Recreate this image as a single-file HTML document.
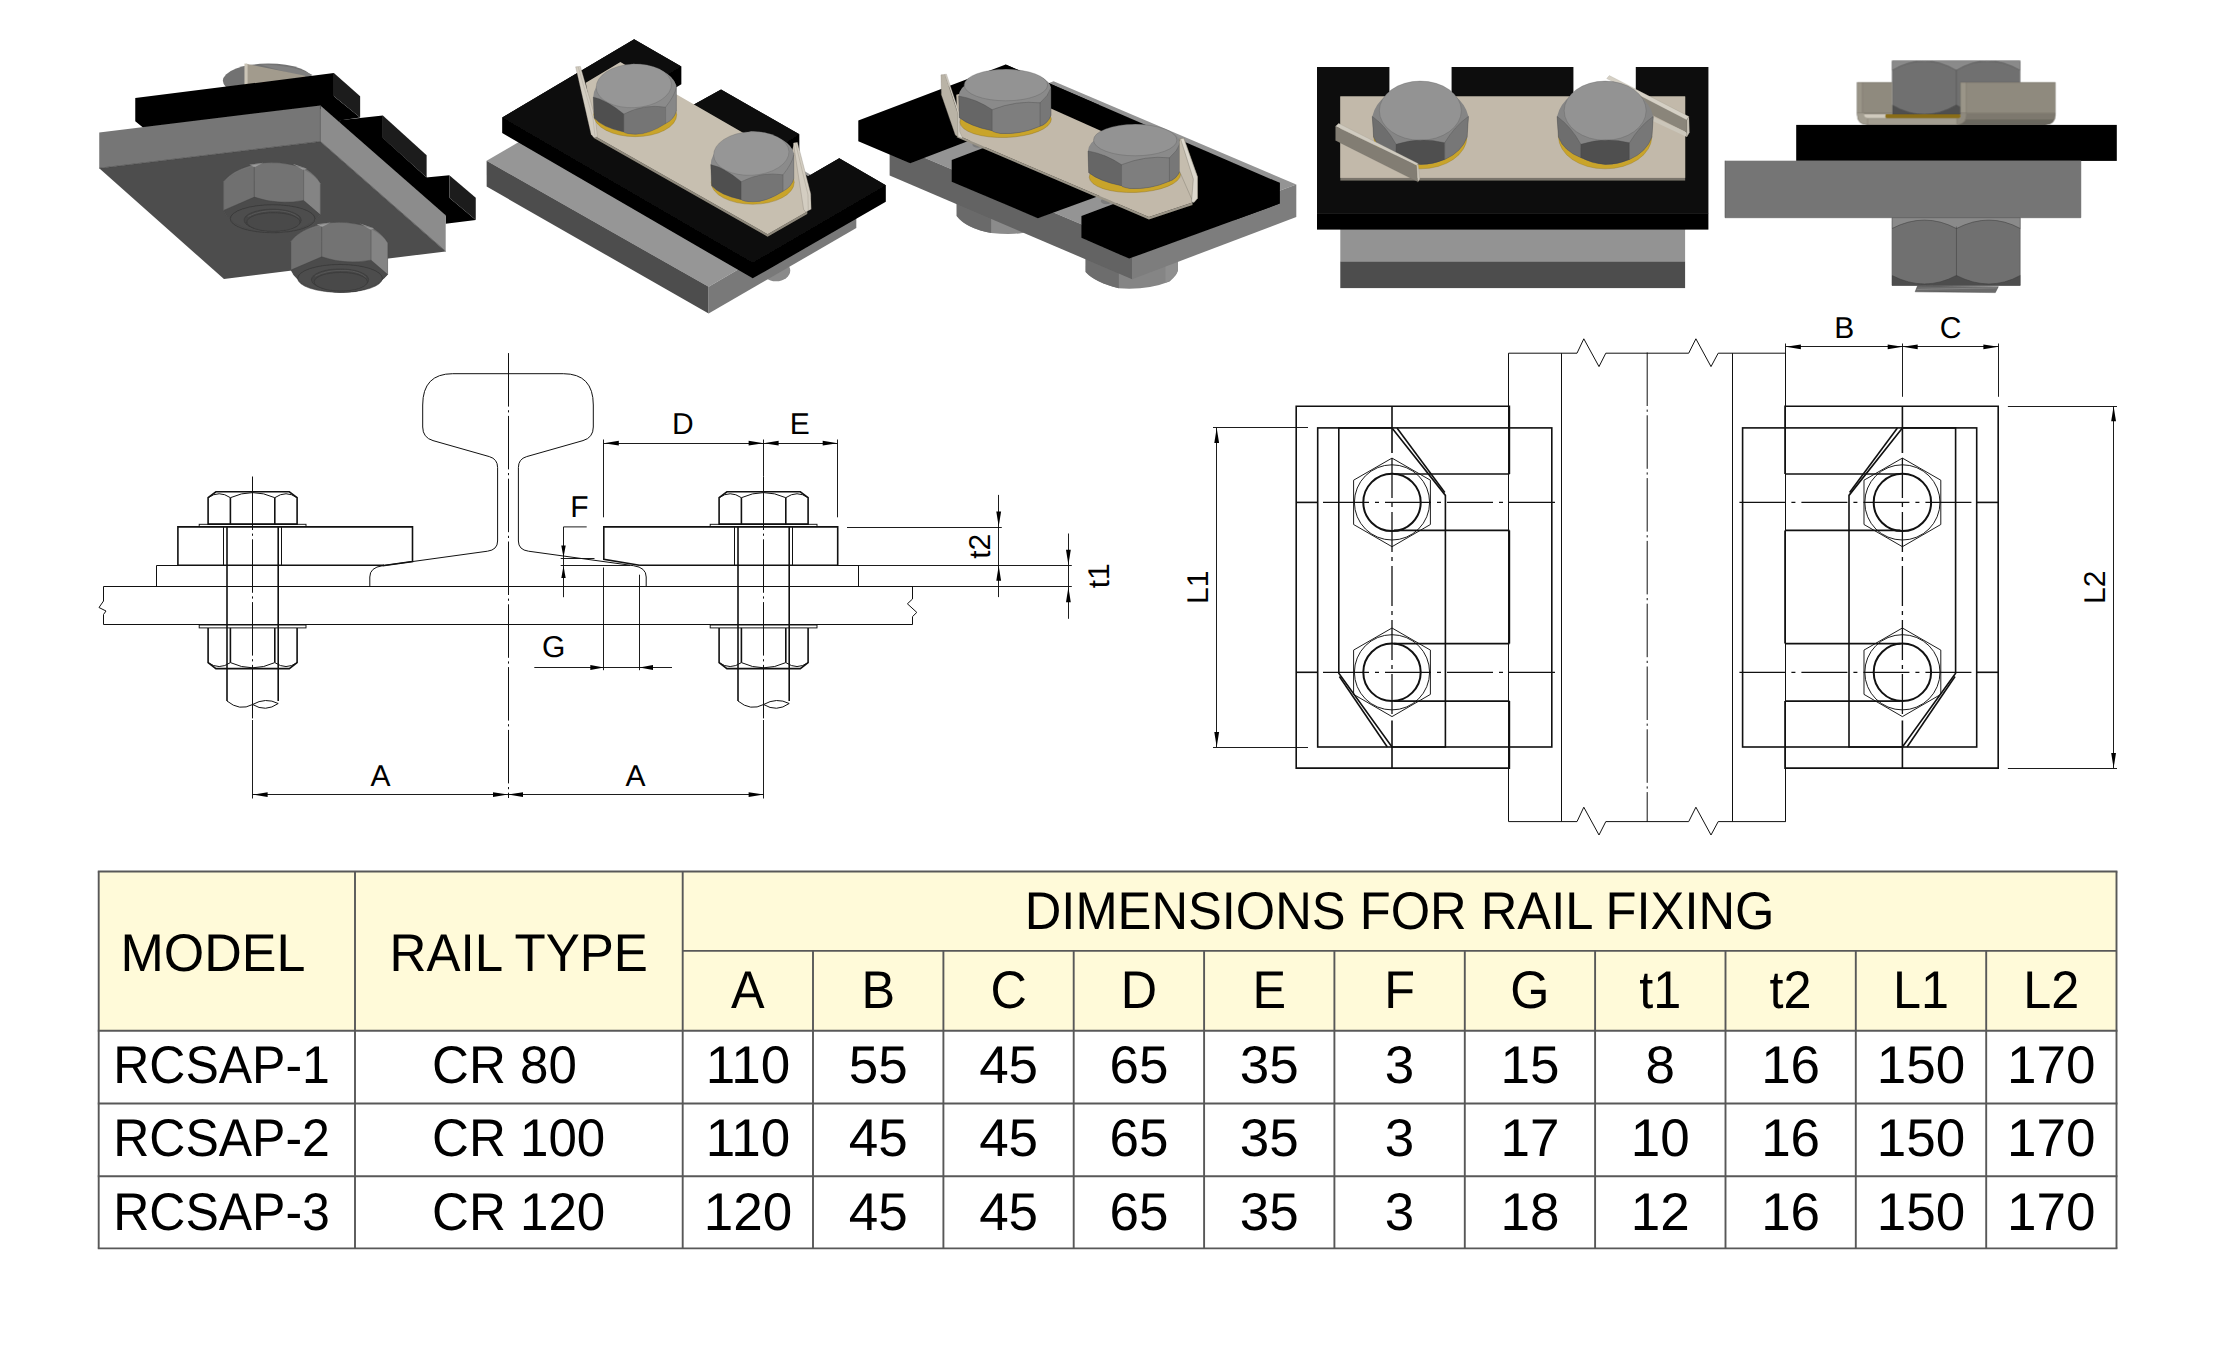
<!DOCTYPE html>
<html><head><meta charset="utf-8"><title>Rail clamp RCSAP</title>
<style>
html,body{margin:0;padding:0;background:#fff;}
body{width:2216px;height:1353px;overflow:hidden;font-family:"Liberation Sans",sans-serif;}
svg{display:block;position:absolute;left:0;top:0;}
text{font-family:"Liberation Sans",sans-serif;fill:#000;text-rendering:geometricPrecision;}
.ln{stroke:#111;stroke-width:1;fill:none;}
.lt{stroke:#111;stroke-width:1.6;fill:none;}
.lh{stroke:#111;stroke-width:0.95;fill:none;}
.cl{stroke:#111;stroke-width:1;fill:none;stroke-dasharray:53.5 3.6 2.2 3.5;}
.cl2{stroke:#111;stroke-width:1.3;fill:none;stroke-dasharray:40 5 4 5;}
.cl3{stroke:#111;stroke-width:1.3;fill:none;stroke-dasharray:46 6 4 6;}
.ar{fill:#000;stroke:none;}
</style></head><body>
<svg width="2216" height="1353" viewBox="0 0 2216 1353">
<defs><filter id="soft" x="-2%" y="-2%" width="104%" height="104%"><feGaussianBlur stdDeviation="0.45"/></filter></defs>

<!-- table.svg -->
<g id="table">
<rect x="98.7" y="871.5" width="2017.8" height="159.3" fill="#fffad9"/>
<line x1="97.8" y1="871.5" x2="2117.4" y2="871.5" stroke="#585858" stroke-width="1.9"/>
<line x1="97.8" y1="1030.8" x2="2117.4" y2="1030.8" stroke="#585858" stroke-width="1.9"/>
<line x1="97.8" y1="1103.5" x2="2117.4" y2="1103.5" stroke="#585858" stroke-width="1.9"/>
<line x1="97.8" y1="1176.2" x2="2117.4" y2="1176.2" stroke="#585858" stroke-width="1.9"/>
<line x1="97.8" y1="1248.4" x2="2117.4" y2="1248.4" stroke="#585858" stroke-width="1.9"/>
<line x1="682.7" y1="950.9" x2="2116.5" y2="950.9" stroke="#585858" stroke-width="1.9"/>
<line x1="98.7" y1="871.5" x2="98.7" y2="1248.4" stroke="#585858" stroke-width="1.9"/>
<line x1="355.0" y1="871.5" x2="355.0" y2="1248.4" stroke="#585858" stroke-width="1.9"/>
<line x1="682.7" y1="871.5" x2="682.7" y2="1248.4" stroke="#585858" stroke-width="1.9"/>
<line x1="2116.5" y1="871.5" x2="2116.5" y2="1248.4" stroke="#585858" stroke-width="1.9"/>
<line x1="813.0" y1="950.9" x2="813.0" y2="1248.4" stroke="#585858" stroke-width="1.9"/>
<line x1="943.4" y1="950.9" x2="943.4" y2="1248.4" stroke="#585858" stroke-width="1.9"/>
<line x1="1073.7" y1="950.9" x2="1073.7" y2="1248.4" stroke="#585858" stroke-width="1.9"/>
<line x1="1204.1" y1="950.9" x2="1204.1" y2="1248.4" stroke="#585858" stroke-width="1.9"/>
<line x1="1334.4" y1="950.9" x2="1334.4" y2="1248.4" stroke="#585858" stroke-width="1.9"/>
<line x1="1464.8" y1="950.9" x2="1464.8" y2="1248.4" stroke="#585858" stroke-width="1.9"/>
<line x1="1595.1" y1="950.9" x2="1595.1" y2="1248.4" stroke="#585858" stroke-width="1.9"/>
<line x1="1725.5" y1="950.9" x2="1725.5" y2="1248.4" stroke="#585858" stroke-width="1.9"/>
<line x1="1855.8" y1="950.9" x2="1855.8" y2="1248.4" stroke="#585858" stroke-width="1.9"/>
<line x1="1986.2" y1="950.9" x2="1986.2" y2="1248.4" stroke="#585858" stroke-width="1.9"/>
<text transform="translate(120.5,970.5) scale(0.981,1)" font-size="53.0" text-anchor="start">MODEL</text>
<text transform="translate(389.5,970.5) scale(0.964,1)" font-size="53.0" text-anchor="start">RAIL TYPE</text>
<text transform="translate(1399.6,929.3) scale(0.956,1)" font-size="53.0" text-anchor="middle">DIMENSIONS FOR RAIL FIXING</text>
<text transform="translate(747.9,1008.4) scale(0.950,1)" font-size="53.0" text-anchor="middle">A</text>
<text transform="translate(878.2,1008.4) scale(0.950,1)" font-size="53.0" text-anchor="middle">B</text>
<text transform="translate(1008.6,1008.4) scale(0.950,1)" font-size="53.0" text-anchor="middle">C</text>
<text transform="translate(1138.9,1008.4) scale(0.950,1)" font-size="53.0" text-anchor="middle">D</text>
<text transform="translate(1269.3,1008.4) scale(0.950,1)" font-size="53.0" text-anchor="middle">E</text>
<text transform="translate(1399.6,1008.4) scale(0.950,1)" font-size="53.0" text-anchor="middle">F</text>
<text transform="translate(1529.9,1008.4) scale(0.950,1)" font-size="53.0" text-anchor="middle">G</text>
<text transform="translate(1660.3,1008.4) scale(0.950,1)" font-size="53.0" text-anchor="middle">t1</text>
<text transform="translate(1790.6,1008.4) scale(0.950,1)" font-size="53.0" text-anchor="middle">t2</text>
<text transform="translate(1921.0,1008.4) scale(0.950,1)" font-size="53.0" text-anchor="middle">L1</text>
<text transform="translate(2051.3,1008.4) scale(0.950,1)" font-size="53.0" text-anchor="middle">L2</text>
<text transform="translate(113.2,1083.2) scale(0.943,1)" font-size="53.0" text-anchor="start">RCSAP-1</text>
<text transform="translate(432.0,1083.2) scale(0.964,1)" font-size="53.0" text-anchor="start">CR 80</text>
<text transform="translate(747.9,1083.2) scale(1.000,1)" font-size="53.0" text-anchor="middle">110</text>
<text transform="translate(878.2,1083.2) scale(1.000,1)" font-size="53.0" text-anchor="middle">55</text>
<text transform="translate(1008.6,1083.2) scale(1.000,1)" font-size="53.0" text-anchor="middle">45</text>
<text transform="translate(1138.9,1083.2) scale(1.000,1)" font-size="53.0" text-anchor="middle">65</text>
<text transform="translate(1269.3,1083.2) scale(1.000,1)" font-size="53.0" text-anchor="middle">35</text>
<text transform="translate(1399.6,1083.2) scale(1.000,1)" font-size="53.0" text-anchor="middle">3</text>
<text transform="translate(1529.9,1083.2) scale(1.000,1)" font-size="53.0" text-anchor="middle">15</text>
<text transform="translate(1660.3,1083.2) scale(1.000,1)" font-size="53.0" text-anchor="middle">8</text>
<text transform="translate(1790.6,1083.2) scale(1.000,1)" font-size="53.0" text-anchor="middle">16</text>
<text transform="translate(1921.0,1083.2) scale(1.000,1)" font-size="53.0" text-anchor="middle">150</text>
<text transform="translate(2051.3,1083.2) scale(1.000,1)" font-size="53.0" text-anchor="middle">170</text>
<text transform="translate(113.2,1156.3) scale(0.943,1)" font-size="53.0" text-anchor="start">RCSAP-2</text>
<text transform="translate(432.0,1156.3) scale(0.964,1)" font-size="53.0" text-anchor="start">CR 100</text>
<text transform="translate(747.9,1156.3) scale(1.000,1)" font-size="53.0" text-anchor="middle">110</text>
<text transform="translate(878.2,1156.3) scale(1.000,1)" font-size="53.0" text-anchor="middle">45</text>
<text transform="translate(1008.6,1156.3) scale(1.000,1)" font-size="53.0" text-anchor="middle">45</text>
<text transform="translate(1138.9,1156.3) scale(1.000,1)" font-size="53.0" text-anchor="middle">65</text>
<text transform="translate(1269.3,1156.3) scale(1.000,1)" font-size="53.0" text-anchor="middle">35</text>
<text transform="translate(1399.6,1156.3) scale(1.000,1)" font-size="53.0" text-anchor="middle">3</text>
<text transform="translate(1529.9,1156.3) scale(1.000,1)" font-size="53.0" text-anchor="middle">17</text>
<text transform="translate(1660.3,1156.3) scale(1.000,1)" font-size="53.0" text-anchor="middle">10</text>
<text transform="translate(1790.6,1156.3) scale(1.000,1)" font-size="53.0" text-anchor="middle">16</text>
<text transform="translate(1921.0,1156.3) scale(1.000,1)" font-size="53.0" text-anchor="middle">150</text>
<text transform="translate(2051.3,1156.3) scale(1.000,1)" font-size="53.0" text-anchor="middle">170</text>
<text transform="translate(113.2,1229.5) scale(0.943,1)" font-size="53.0" text-anchor="start">RCSAP-3</text>
<text transform="translate(432.0,1229.5) scale(0.964,1)" font-size="53.0" text-anchor="start">CR 120</text>
<text transform="translate(747.9,1229.5) scale(1.000,1)" font-size="53.0" text-anchor="middle">120</text>
<text transform="translate(878.2,1229.5) scale(1.000,1)" font-size="53.0" text-anchor="middle">45</text>
<text transform="translate(1008.6,1229.5) scale(1.000,1)" font-size="53.0" text-anchor="middle">45</text>
<text transform="translate(1138.9,1229.5) scale(1.000,1)" font-size="53.0" text-anchor="middle">65</text>
<text transform="translate(1269.3,1229.5) scale(1.000,1)" font-size="53.0" text-anchor="middle">35</text>
<text transform="translate(1399.6,1229.5) scale(1.000,1)" font-size="53.0" text-anchor="middle">3</text>
<text transform="translate(1529.9,1229.5) scale(1.000,1)" font-size="53.0" text-anchor="middle">18</text>
<text transform="translate(1660.3,1229.5) scale(1.000,1)" font-size="53.0" text-anchor="middle">12</text>
<text transform="translate(1790.6,1229.5) scale(1.000,1)" font-size="53.0" text-anchor="middle">16</text>
<text transform="translate(1921.0,1229.5) scale(1.000,1)" font-size="53.0" text-anchor="middle">150</text>
<text transform="translate(2051.3,1229.5) scale(1.000,1)" font-size="53.0" text-anchor="middle">170</text>
</g>
<!-- draw_left.svg -->
<g id="draw_left">
<path class="ln" d="M508.0,373.7L452.7,373.7Q422.7,373.7 422.7,405.0L422.7,427.0Q422.7,437.6 433.0,440.6L489.3,456.6Q497.6,459.0 497.6,467.5L497.6,541.0Q497.6,549.8 487.5,551.2L382.5,565.7Q369.8,567.5 369.8,577.0L369.8,587.0"/>
<path class="ln" d="M508.0,373.7L563.3,373.7Q593.3,373.7 593.3,405.0L593.3,427.0Q593.3,437.6 583.0,440.6L526.7,456.6Q518.4,459.0 518.4,467.5L518.4,541.0Q518.4,549.8 528.5,551.2L633.5,565.7Q646.2,567.5 646.2,577.0L646.2,587.0"/>
<path class="cl" d="M508.5,353.1L508.5,798.0"/>
<path class="ln" d="M103.5,586.5H912.6"/>
<path class="ln" d="M103.5,624.5H912.6"/>
<path class="ln" d="M103.5,586.5V601L99,607.5L106,611L103.5,614.5V624.5"/>
<path class="ln" d="M912.5,586.5V599L907.4,603.8L916.8,612.4L912.5,616.6V624.5"/>
<path class="ln" d="M369.8,565.5H156.5V586.5"/>
<path class="ln" d="M646.2,565.5H858.5V586.5"/>
<path class="lt" d="M382.5,565.7L412.5,561.5V526.9H177.9V565.3H384"/>
<path class="lt" d="M639.5,565.3L603.8,559.3V526.9H837.7V565.3H639.5"/>
<path class="lt" d="M208.1,524.1V497.7L215.9,491.8H289.3L297.1,497.7V524.1Z"/>
<path class="ln" d="M208.1,497.7Q219.1,489.8 230.4,497.7Q252.6,487.5 274.8,497.7Q286.1,489.8 297.1,497.7"/>
<path class="lt" d="M230.4,497.7L230.4,524.1"/>
<path class="lt" d="M274.8,497.7L274.8,524.1"/>
<rect class="lh" x="199.2" y="524.3" width="106.8" height="2.3"/>
<rect class="lh" x="199.2" y="625.0" width="106.8" height="2.9"/>
<path class="lt" d="M227.0,526.9L227.0,701.0"/>
<path class="lt" d="M278.2,526.9L278.2,701.0"/>
<path class="ln" d="M223.5,526.9L223.5,565.3"/>
<path class="ln" d="M281.5,526.9L281.5,565.3"/>
<path class="lt" d="M208.1,627.9V662.6L215.9,668.6H289.3L297.1,662.6V627.9"/>
<path class="ln" d="M208.1,662.6Q219.1,670.5 230.4,662.6Q252.6,673 274.8,662.6Q286.1,670.5 297.1,662.6"/>
<path class="lt" d="M230.4,627.9L230.4,662.6"/>
<path class="lt" d="M274.8,627.9L274.8,662.6"/>
<path class="ln" d="M227.0,701Q239.6,711.5 252.6,704.5Q265.6,697 278.2,703.5"/>
<path class="ln" d="M252.6,704.5Q265.6,712.5 278.2,703.5"/>
<path class="lt" d="M719.1,524.1V497.7L726.9,491.8H800.3L808.1,497.7V524.1Z"/>
<path class="ln" d="M719.1,497.7Q730.1,489.8 741.4,497.7Q763.6,487.5 785.8,497.7Q797.1,489.8 808.1,497.7"/>
<path class="lt" d="M741.4,497.7L741.4,524.1"/>
<path class="lt" d="M785.8,497.7L785.8,524.1"/>
<rect class="lh" x="710.2" y="524.3" width="106.8" height="2.3"/>
<rect class="lh" x="710.2" y="625.0" width="106.8" height="2.9"/>
<path class="lt" d="M738.0,526.9L738.0,701.0"/>
<path class="lt" d="M789.2,526.9L789.2,701.0"/>
<path class="ln" d="M734.5,526.9L734.5,565.3"/>
<path class="ln" d="M792.5,526.9L792.5,565.3"/>
<path class="lt" d="M719.1,627.9V662.6L726.9,668.6H800.3L808.1,662.6V627.9"/>
<path class="ln" d="M719.1,662.6Q730.1,670.5 741.4,662.6Q763.6,673 785.8,662.6Q797.1,670.5 808.1,662.6"/>
<path class="lt" d="M741.4,627.9L741.4,662.6"/>
<path class="lt" d="M785.8,627.9L785.8,662.6"/>
<path class="ln" d="M738.0,701Q750.6,711.5 763.6,704.5Q776.6,697 789.2,703.5"/>
<path class="ln" d="M763.6,704.5Q776.6,712.5 789.2,703.5"/>
<path class="cl" d="M252.5,476.5L252.5,720.0"/>
<path class="cl" d="M763.5,476.5L763.5,720.0"/>
<path class="lh" d="M252.5,720.0L252.5,798.5"/>
<path class="lh" d="M763.5,720.0L763.5,798.5"/>
<path class="lh" d="M763.5,439.5L763.5,476.5"/>
<path class="lh" d="M252.6,794.5L763.6,794.5"/>
<path class="ar" d="M252.6,794.6L267.6,792.2L267.6,797.0Z"/>
<path class="ar" d="M508.0,794.6L493.0,797.0L493.0,792.2Z"/>
<path class="ar" d="M508.0,794.6L523.0,792.2L523.0,797.0Z"/>
<path class="ar" d="M763.6,794.6L748.6,797.0L748.6,792.2Z"/>
<text transform="translate(380.6,786.3)" font-size="30.0" text-anchor="middle">A</text>
<text transform="translate(635.6,786.3)" font-size="30.0" text-anchor="middle">A</text>
<path class="lh" d="M603.8,443.5L837.7,443.5"/>
<path class="ar" d="M603.8,443.2L618.8,440.8L618.8,445.6Z"/>
<path class="ar" d="M763.6,443.2L748.6,445.6L748.6,440.8Z"/>
<path class="ar" d="M763.6,443.2L778.6,440.8L778.6,445.6Z"/>
<path class="ar" d="M837.7,443.2L822.7,445.6L822.7,440.8Z"/>
<path class="lh" d="M603.5,439.5L603.5,517.3"/>
<path class="lh" d="M837.5,439.5L837.5,517.3"/>
<text transform="translate(682.8,434.3)" font-size="30.0" text-anchor="middle">D</text>
<text transform="translate(799.8,434.3)" font-size="30.0" text-anchor="middle">E</text>
<path class="lh" d="M586.7,526.9H563.5V597.2"/>
<path class="ar" d="M563.5,557.6L561.3,545.6L565.7,545.6Z"/>
<path class="ar" d="M563.5,566.0L565.7,578.0L561.3,578.0Z"/>
<path class="lh" d="M560.7,558.5L594.5,558.5"/>
<path class="lh" d="M560.7,565.5L630.0,565.5"/>
<text transform="translate(579.3,517.4)" font-size="30.0" text-anchor="middle">F</text>
<path class="lh" d="M603.5,567.5L603.5,670.2"/>
<path class="lh" d="M639.5,574.7L639.5,670.2"/>
<path class="lh" d="M534.3,667.5L672.0,667.5"/>
<path class="ar" d="M603.8,667.5L590.3,669.9L590.3,665.1Z"/>
<path class="ar" d="M639.5,667.5L653.0,665.1L653.0,669.9Z"/>
<text transform="translate(553.6,657.0)" font-size="30.0" text-anchor="middle">G</text>
<path class="lh" d="M847.0,527.5L1001.8,527.5"/>
<path class="lh" d="M837.7,565.5L1071.8,565.5"/>
<path class="lh" d="M858.8,586.5L1071.8,586.5"/>
<path class="lh" d="M998.5,494.9L998.5,597.1"/>
<path class="ar" d="M998.7,526.6L996.3,511.6L1001.1,511.6Z"/>
<path class="ar" d="M998.7,565.8L1001.1,580.8L996.3,580.8Z"/>
<path class="lh" d="M1068.5,533.5L1068.5,618.8"/>
<path class="ar" d="M1068.4,564.8L1066.0,549.8L1070.8,549.8Z"/>
<path class="ar" d="M1068.4,587.3L1070.8,602.3L1066.0,602.3Z"/>
<text transform="translate(990.3,546.3) rotate(-90)" font-size="30.0" text-anchor="middle">t2</text>
<text transform="translate(1109.0,575.8) rotate(-90)" font-size="30.0" text-anchor="middle">t1</text>
</g>

<!-- draw_right.svg -->
<g id="draw_right">
<g><path class="lt" d="M1509.4,474V406.3H1296.2V768.1H1509.4V701.1"/>
<path class="lt" d="M1509.4,530.4V643.6"/>
<rect class="lt" x="1317.7" y="427.9" width="234.1" height="319.1"/>
<path class="lt" d="M1392,427.9H1338.8V673.2L1392,747H1445.4V495.4L1392,427.9"/>
<path class="lt" d="M1397,427.9L1444.8,492.5"/>
<path class="lt" d="M1339.4,676.5L1387.3,747"/>
<path class="lt" d="M1394,474H1509.4"/>
<path class="lt" d="M1394,530.4H1509.4"/>
<path class="lt" d="M1394,643.6H1509.4"/>
<path class="lt" d="M1394,701.1H1509.4"/>
<path class="lt" d="M1392.0,406.3L1392.0,453.0"/>
<path class="lt" d="M1392.0,720.5L1392.0,768.1"/>
<path class="cl2" d="M1392,458V716"/>
<circle class="lt" cx="1392" cy="502.4" r="28.7" style="stroke-width:2"/>
<circle class="lh" cx="1392" cy="502.4" r="37.6"/>
<polygon class="lh" points="1392.0,458.1 1430.4,480.2 1430.4,524.5 1392.0,546.7 1353.6,524.5 1353.6,480.2"/>
<path class="lt" d="M1296.2,502.4L1318.0,502.4"/>
<path class="cl3" d="M1323,502.4H1556"/>
<circle class="lt" cx="1392" cy="672.3" r="28.7" style="stroke-width:2"/>
<circle class="lh" cx="1392" cy="672.3" r="37.6"/>
<polygon class="lh" points="1392.0,628.0 1430.4,650.1 1430.4,694.4 1392.0,716.6 1353.6,694.4 1353.6,650.1"/>
<path class="lt" d="M1296.2,672.3L1318.0,672.3"/>
<path class="cl3" d="M1323,672.3H1556"/></g>
<g transform="translate(3294.4,0) scale(-1,1)"><path class="lt" d="M1509.4,474V406.3H1296.2V768.1H1509.4V701.1"/>
<path class="lt" d="M1509.4,530.4V643.6"/>
<rect class="lt" x="1317.7" y="427.9" width="234.1" height="319.1"/>
<path class="lt" d="M1392,427.9H1338.8V673.2L1392,747H1445.4V495.4L1392,427.9"/>
<path class="lt" d="M1397,427.9L1444.8,492.5"/>
<path class="lt" d="M1339.4,676.5L1387.3,747"/>
<path class="lt" d="M1394,474H1509.4"/>
<path class="lt" d="M1394,530.4H1509.4"/>
<path class="lt" d="M1394,643.6H1509.4"/>
<path class="lt" d="M1394,701.1H1509.4"/>
<path class="lt" d="M1392.0,406.3L1392.0,453.0"/>
<path class="lt" d="M1392.0,720.5L1392.0,768.1"/>
<path class="cl2" d="M1392,458V716"/>
<circle class="lt" cx="1392" cy="502.4" r="28.7" style="stroke-width:2"/>
<circle class="lh" cx="1392" cy="502.4" r="37.6"/>
<polygon class="lh" points="1392.0,458.1 1430.4,480.2 1430.4,524.5 1392.0,546.7 1353.6,524.5 1353.6,480.2"/>
<path class="lt" d="M1296.2,502.4L1318.0,502.4"/>
<path class="cl3" d="M1323,502.4H1556"/>
<circle class="lt" cx="1392" cy="672.3" r="28.7" style="stroke-width:2"/>
<circle class="lh" cx="1392" cy="672.3" r="37.6"/>
<polygon class="lh" points="1392.0,628.0 1430.4,650.1 1430.4,694.4 1392.0,716.6 1353.6,694.4 1353.6,650.1"/>
<path class="lt" d="M1296.2,672.3L1318.0,672.3"/>
<path class="cl3" d="M1323,672.3H1556"/></g>
<path class="ln" d="M1508.5,353.2L1508.5,821.6"/>
<path class="ln" d="M1561.5,353.2L1561.5,821.6"/>
<path class="ln" d="M1732.5,353.2L1732.5,821.6"/>
<path class="ln" d="M1785.5,353.2L1785.5,821.6"/>
<path class="cl" d="M1647.2,352.5V822"/>
<path class="ln" d="M1508.6,353.2H1577L1583.8,338.8L1599,366.6L1605.8,353.2H1688.7L1695.9,338.8L1711,366.6L1718.2,353.2H1785.8"/>
<path class="ln" d="M1508.6,821.6H1577L1583.8,807.2L1599,835.0L1605.8,821.6H1688.7L1695.9,807.2L1711,835.0L1718.2,821.6H1785.8"/>
<path class="lh" d="M1785.9,346.5L1998.4,346.5"/>
<path class="lh" d="M1785.5,343.5L1785.5,396.8"/>
<path class="lh" d="M1902.5,343.5L1902.5,396.8"/>
<path class="lh" d="M1998.5,343.5L1998.5,396.8"/>
<path class="ar" d="M1785.9,346.8L1800.9,344.4L1800.9,349.2Z"/>
<path class="ar" d="M1902.7,346.8L1887.7,349.2L1887.7,344.4Z"/>
<path class="ar" d="M1902.7,346.8L1917.7,344.4L1917.7,349.2Z"/>
<path class="ar" d="M1998.4,346.8L1983.4,349.2L1983.4,344.4Z"/>
<text transform="translate(1844.2,338.3)" font-size="30.0" text-anchor="middle">B</text>
<text transform="translate(1950.5,338.3)" font-size="30.0" text-anchor="middle">C</text>
<path class="lh" d="M1213.0,427.5L1308.0,427.5"/>
<path class="lh" d="M1213.0,747.5L1308.0,747.5"/>
<path class="lh" d="M1216.5,427.9L1216.5,747.0"/>
<path class="ar" d="M1216.7,427.9L1219.1,442.9L1214.3,442.9Z"/>
<path class="ar" d="M1216.7,747.0L1214.3,732.0L1219.1,732.0Z"/>
<text transform="translate(1207.5,587.3) rotate(-90)" font-size="30.0" text-anchor="middle">L1</text>
<path class="lh" d="M2007.9,406.5L2117.0,406.5"/>
<path class="lh" d="M2007.9,768.5L2117.0,768.5"/>
<path class="lh" d="M2113.5,406.3L2113.5,768.1"/>
<path class="ar" d="M2113.6,406.3L2116.0,421.3L2111.2,421.3Z"/>
<path class="ar" d="M2113.6,768.1L2111.2,753.1L2116.0,753.1Z"/>
<text transform="translate(2105.0,587.3) rotate(-90)" font-size="30.0" text-anchor="middle">L2</text>
</g>

<!-- r1.svg -->
<g id="r1" filter="url(#soft)">
<defs>
<g id="nutA">
  <path fill="#737373" d="M122,285Q200,180 400,130Q600,85 860,165Q960,230 995,300L995,585Q900,700 700,740Q500,765 300,700Q160,640 122,545Z"/>
  <path fill="#6f6f6f" d="M122,285Q230,180 400,150L400,425L122,545Z"/>
  <path fill="#848484" d="M845,175Q950,230 995,300L995,585L845,455Z"/>
  <path fill="#4b4b4b" d="M122,545L400,425Q620,500 845,455L995,585Q900,700 700,740Q500,765 300,700Q160,640 122,545Z"/>
  <path fill="#9c9c9c" d="M355,132L480,116L402,156Z"/>
  <path fill="#9c9c9c" d="M745,125L872,168L845,182Z"/>
  <ellipse cx="565" cy="620" rx="382" ry="126" fill="#4d4d4d" stroke="#262626" stroke-width="4"/>
  <path fill="none" stroke="#3a3a3a" stroke-width="3" d="M400,150V425M845,175V455M122,545L400,425Q620,500 845,455L995,585"/>
  <path fill="none" stroke="#444" stroke-width="2.5" d="M122,285Q200,180 400,130Q600,85 860,165Q960,230 995,300L995,585Q900,700 700,740Q500,765 300,700Q160,640 122,545Z"/>
  <ellipse cx="565" cy="632" rx="258" ry="98" fill="#454545" stroke="#2a2a2a" stroke-width="3"/>
  <path fill="none" stroke="#7a7a7a" stroke-width="3" d="M340,600Q450,540 620,548Q740,556 800,610"/>
  <ellipse cx="572" cy="650" rx="240" ry="84" fill="#484848" stroke="#2a2a2a" stroke-width="3"/>
</g>
</defs>
<g transform="translate(90,50) scale(0.184758)">
  <!-- bolt head behind -->
  <ellipse cx="965" cy="167" rx="246" ry="94" fill="#727272"/>
  <path fill="#808080" d="M920,78Q1100,80 1205,135L1165,150Z"/>
  <!-- fin -->
  <path fill="#a29b8d" d="M845,75L1165,140L1165,170L845,190Z"/>
  <path fill="#cbc5b7" d="M836,73L853,75L853,190L836,190Z"/>
  <!-- black bar 1 -->
  <path fill="#030303" d="M245,260L1320,125L1320,250L1462,366L1352,381L1352,400L1247,320L290,422L245,385Z"/>
  <path fill="#1c1c1c" d="M1320,125L1462,250L1462,366L1320,250Z"/>
  <!-- black bar 2 -->
  <path fill="#000" d="M1350,380L1585,355L1585,475L1822,690L1945,800L1925,900L1350,560Z"/>
  <path fill="#1d1d1d" d="M1585,355L1822,570L1822,690L1585,477Z"/>
  <!-- black bar 3 -->
  <path fill="#000" d="M1720,700L1945,678L1945,800L2088,920L1925,941L1925,880L1720,715Z"/>
  <path fill="#1d1d1d" d="M1945,678L2088,800L2088,920L1945,800Z"/>
  <!-- gray plate -->
  <path fill="#4d4d4d" d="M50,640L1247,495L1925,1090L725,1240Z"/>
  <path fill="#767676" d="M50,447L1247,300L1247,495L50,640Z"/>
  <path fill="#8c8c8c" d="M1247,300L1925,895L1925,1090L1247,495Z"/>
  <path fill="none" stroke="#444" stroke-width="3.5" d="M50,640L1247,495L1925,1090M1247,300V495"/>
</g>
<g transform="translate(210,150) scale(0.110852)"><use href="#nutA"/></g>
<g transform="translate(277.4,209.7) scale(0.110852)"><use href="#nutA"/></g>
</g>

<!-- r2.svg -->
<g id="r2" filter="url(#soft)">
<defs>
<g id="boltB">
  <ellipse cx="848" cy="730" rx="468" ry="247" fill="#c9a42c" stroke="#8d7018" stroke-width="4"/>
  <path fill="#8b8b8b" d="M375,530Q380,300 830,155Q1250,200 1312,400L1312,685Q1290,783 1190,830Q1000,953 850,950Q740,945 720,925Q480,875 385,768Z"/>
  <path fill="#4f4f4f" d="M375,530Q520,560 720,722L720,925Q480,875 385,768Z"/>
  <path fill="#757575" d="M720,722Q950,605 1190,645L1190,830Q1000,953 850,950Q740,945 720,925Z"/>
  <path fill="#878787" d="M1190,645Q1290,520 1312,420L1312,685Q1290,780 1190,830Z"/>
  <ellipse cx="832" cy="404" rx="425" ry="246" fill="#969696" stroke="#5a5a5a" stroke-width="3" transform="rotate(-3 832 404)"/>
  <path fill="none" stroke="#444" stroke-width="3" d="M720,722V925M1190,645V830M375,530Q520,560 720,722Q950,605 1190,645Q1290,520 1312,420"/>
  <path fill="none" stroke="#3c3c3c" stroke-width="3" d="M375,530L385,768Q480,875 720,925Q740,945 850,950Q1000,953 1190,830Q1290,780 1312,685L1312,400"/>
</g>
</defs>
<g transform="translate(480,30) scale(0.221754)">
  <ellipse cx="1335" cy="1085" rx="64" ry="48" fill="#8a8a8a"/>
  <!-- gray plate -->
  <path fill="#969696" d="M30,590L700,200L1697,770L1031,1158Z"/>
  <path fill="#4d4d4d" d="M30,590L1031,1158L1031,1279L30,706Z"/>
  <path fill="#797979" d="M1031,1158L1697,770L1697,893L1031,1279Z"/>
  <!-- black piece -->
  <path fill="#000" d="M100,395L695,42L908,165L908,245L700,370L800,430L975,330L1087,268L1440,470L1440,545L1300,620L1480,660L1620,578L1830,700L1830,775L1230,1120L100,465Z"/>
  <path fill="#0b0b0b" d="M100,395L695,42L908,165L700,290L800,430L975,330L1087,268L1440,470L1300,560L1480,660L1620,578L1830,700L1230,1050Z"/>
  <!-- beige plate -->
  <path fill="#8f897c" d="M521,480L1297,921L1476,819L1476,830L1297,932L515,488Z"/>
  <path fill="#c7bfb0" d="M477,238L633,144L1398,585L1416,510L1476,819L1297,921L521,480Z"/>
</g>
<!-- fin 1 (behind bolt 1) -->
<g transform="translate(560,50) scale(0.088692)">
  <path fill="#d3cdc1" stroke="#7d776b" stroke-width="3" d="M176,190L230,185L398,765L422,975L385,992L350,950Z"/>
  <path fill="none" stroke="#8d877a" stroke-width="3" d="M205,190L372,770L395,975"/>
</g>
<g transform="translate(560,50) scale(0.088692)"><use href="#boltB"/></g>
<g transform="translate(677.5,117.6) scale(0.088692)"><use href="#boltB"/></g>
<!-- fin 2 -->
<g transform="translate(690,110) scale(0.155207)">
  <path fill="#d3cdc1" stroke="#7d776b" stroke-width="2" d="M666,213L692,207L778,540L781,640L745,657L732,640Z"/>
  <path fill="none" stroke="#8d877a" stroke-width="2" d="M680,212L760,545L762,645"/>
</g>
</g>

<!-- r3.svg -->
<g id="r3" filter="url(#soft)">
<defs>
<g id="boltC">
  <ellipse cx="1138" cy="480" rx="334" ry="123" fill="#c9a42c" stroke="#8d7018" stroke-width="3" transform="rotate(-2 1138 480)"/>
  <path fill="#8a8a8a" d="M795,300Q800,180 1140,105Q1450,130 1470,240L1470,440Q1445,507 1380,525Q1250,582 1100,574Q1045,564 1040,554Q880,522 800,458Z"/>
  <path fill="#666" d="M795,300Q920,320 1040,400L1040,554Q880,522 800,458Z"/>
  <path fill="#7e7e7e" d="M1040,400Q1220,330 1390,350L1390,521Q1250,582 1100,574Q1045,564 1040,554Z"/>
  <path fill="#777" d="M1390,350Q1450,300 1470,240L1470,440Q1445,505 1390,521Z"/>
  <ellipse cx="1140" cy="220" rx="305" ry="115" fill="#939393" stroke="#5c5c5c" stroke-width="2.5"/>
  <path fill="none" stroke="#444" stroke-width="2.5" d="M1040,400V554M1390,350V521M795,300Q920,320 1040,400Q1220,330 1390,350Q1450,300 1470,240"/>
  <path fill="none" stroke="#3c3c3c" stroke-width="2.5" d="M795,300L800,458Q880,522 1040,554Q1045,564 1100,574Q1250,582 1380,525Q1445,507 1470,440L1470,240"/>
</g>
</defs>
<g transform="translate(850,50) scale(0.207581)">
  <!-- nuts under plate -->
  <path fill="#8b8b8b" d="M514,700L514,800Q560,860 680,882Q780,892 837,880L837,820Z"/>
  <path fill="#6b6b6b" d="M514,700L680,780L680,882Q560,860 514,800Z"/>
  <path fill="#858585" d="M1135,960L1135,1070Q1180,1120 1295,1148Q1430,1158 1540,1115Q1580,1080 1580,1060L1580,960Z"/>
  <path fill="#6d6d6d" d="M1135,960L1295,1040L1295,1148Q1180,1120 1135,1070Z"/>
  <path fill="#8f8f8f" d="M1520,1000L1580,980L1580,1060Q1570,1095 1520,1122Z"/>
  <!-- gray plate -->
  <path fill="#949494" d="M191,448L981,150L2150,648L1359,943Z"/>
  <path fill="#636363" d="M191,448L1359,943L1359,1104L191,605Z"/>
  <path fill="#7d7d7d" d="M1359,943L2150,648L2150,805L1359,1104Z"/>
  <ellipse cx="1235" cy="728" rx="27" ry="15" fill="#7b7b7b"/>
  <ellipse cx="616" cy="456" rx="26" ry="15" fill="#7b7b7b"/>
  <!-- black piece -->
  <path fill="#020202" d="M750,70L2070,640L2070,740L1850,820L700,330Z"/>
  <path fill="#020202" d="M40,340L750,70L1200,265L800,351L290,545L40,440Z"/>
  <path fill="#020202" d="M490,530L900,374L1400,590L1400,630L905,810L490,635Z"/>
  <path fill="#020202" d="M1115,800L1500,655L2070,640L2070,740L1345,1005L1115,905Z"/>
  <!-- beige plate -->
  <path fill="#9a9487" d="M520,412L1440,805L1650,735L1650,747L1440,817L514,420Z"/>
  <path fill="#c2b9aa" d="M512,215L700,162L1620,573L1650,735L1440,805L520,412Z"/>
</g>
<!-- fin 1 -->
<g transform="translate(850,55) scale(0.136752)">
  <path fill="#b9b3a6" stroke="#7d776b" stroke-width="2" d="M665,145L695,142L790,430L790,600L770,585L668,290Z"/>
  <path fill="#d7d2c7" stroke="#7d776b" stroke-width="2" d="M695,142L705,140L802,430L802,560L825,610L790,600L790,430Z"/>
</g>
<g transform="translate(850,55) scale(0.136752)"><use href="#boltC"/></g>
<g transform="translate(979.3,110) scale(0.136752)"><use href="#boltC"/></g>
<!-- fin 2 -->
<g transform="translate(850,50) scale(0.207581)">
  <path fill="#c5bdae" stroke="#7d776b" stroke-width="2" d="M1587,427L1608,425L1674,611L1674,714L1654,736L1587,583Z"/>
  <path fill="#dcd7cc" stroke="#7d776b" stroke-width="2" d="M1592,427L1608,425L1674,611L1674,714L1658,734L1645,732L1654,622Z"/>
</g>
</g>

<!-- r4.svg -->
<g id="r4" filter="url(#soft)">
<defs>
<g id="boltD">
  <ellipse cx="970" cy="742" rx="450" ry="310" fill="#c9a42c" stroke="#8d7018" stroke-width="3"/>
  <path fill="#858585" d="M505,545Q560,300 970,205Q1380,300 1435,545L1422,745Q1370,890 1205,962Q1090,1012 970,1010Q850,1005 733,943Q570,880 518,745Z"/>
  <path fill="#6e6e6e" d="M505,545Q640,640 735,815L733,943Q570,880 518,745Z"/>
  <path fill="#4f4f4f" d="M735,815Q970,740 1205,800L1205,962Q1090,1012 970,1010Q850,1005 733,943Z"/>
  <path fill="#777" d="M1205,800Q1300,640 1435,545L1422,745Q1370,890 1205,962Z"/>
  <ellipse cx="970" cy="490" rx="396" ry="286" fill="#939393" stroke="#5c5c5c" stroke-width="3"/>
  <path fill="none" stroke="#444" stroke-width="3" d="M735,815L733,943M1205,800V962M505,545Q640,640 735,815Q970,740 1205,800Q1300,640 1435,545"/>
  <path fill="none" stroke="#3c3c3c" stroke-width="3" d="M505,545L518,745Q570,880 733,943Q850,1005 970,1010Q1090,1012 1205,962Q1370,890 1422,745L1435,545"/>
</g>
</defs>
<!-- gray plate -->
<rect x="1340.3" y="229" width="344.8" height="32.6" fill="#939393"/>
<rect x="1340.3" y="261.5" width="344.8" height="26.6" fill="#4d4d4d"/>
<!-- black -->
<path fill="#070707" d="M1317,66.9H1389.4V96.4H1451.6V66.9H1573.4V96.4H1635.8V66.9H1708.4V213.4H1317Z"/>
<rect x="1317" y="213.2" width="391.4" height="16.4" fill="#000"/>
<!-- beige -->
<rect x="1340.3" y="96.4" width="344.9" height="84.2" fill="#7a756c"/>
<rect x="1340.3" y="96.4" width="344.9" height="81.5" fill="#c2b9aa"/>
<!-- right fin (behind bolt 2) -->
<g transform="translate(1540,60) scale(0.103445)">
  <path fill="#8a857a" d="M700,200L1420,575L1420,700L900,440Z"/>
  <path fill="#cbc6ba" d="M1060,535L1420,700L1420,745L1080,585Z"/>
  <path fill="#d5d0c5" stroke="#8a857a" stroke-width="2" d="M645,180L670,150L1440,545L1420,580Z"/>
  <path fill="#c8c3b7" stroke="#8a857a" stroke-width="2" d="M1420,580L1440,545L1445,700L1420,745Z"/>
</g>
<g transform="translate(1320,60) scale(0.103466)"><use href="#boltD"/></g>
<g transform="translate(1504.8,60) scale(0.103466)"><use href="#boltD"/></g>
<!-- left fin (front of bolt 1) -->
<g transform="translate(1320,60) scale(0.103466)">
  <path fill="#827d73" stroke="#6a665d" stroke-width="2" d="M150,640L935,1020L940,1175L150,778Z"/>
  <path fill="#d0cbc0" stroke="#8a857a" stroke-width="2" d="M150,640L180,612L948,1000L935,1020Z"/>
  <path fill="#c8c3b7" stroke="#8a857a" stroke-width="2" d="M935,1020L948,1000L965,1150L945,1182Z"/>
</g>
</g>

<!-- r5.svg -->
<g id="r5" filter="url(#soft)">
<!-- nut below -->
<rect x="1892.1" y="217" width="128" height="68.4" fill="#707070"/>
<g transform="translate(1710,40) scale(0.199537)">
  <path fill="#8a8a8a" d="M912,890H1555V945Q1400,860 1235,945Q1075,860 912,945Z"/>
  <path fill="#4e4e4e" d="M912,1230H1555V1180Q1400,1265 1235,1180Q1075,1265 912,1180Z"/>
  <path fill="none" stroke="#3a3a3a" stroke-width="2.5" d="M1235,935V1185M912,945Q1075,860 1235,945Q1400,860 1555,945M912,1180Q1075,1265 1235,1180Q1400,1265 1555,1180M912,890V1230H1555V890"/>
  <path fill="#6a6a6a" stroke="#333" stroke-width="2" d="M1040,1232L1445,1236L1430,1266L1028,1262Z"/>
  <path fill="none" stroke="#aaa" stroke-width="2" d="M1035,1250L1440,1242"/>
</g>
<!-- bolt head + clip -->
<g transform="translate(1840,50) scale(0.10379)">
  <rect x="502" y="105" width="1233" height="515" fill="#707070"/>
  <path fill="#8a8a8a" d="M502,105H1735V195Q1420,15 1120,195Q810,15 502,195Z"/>
  <path fill="#505050" d="M502,620H1735V530Q1420,710 1120,530Q810,710 502,530Z"/>
  <path fill="none" stroke="#3a3a3a" stroke-width="3" d="M1120,190V535M502,195Q810,15 1120,195Q1420,15 1735,195M502,530Q810,710 1120,530Q1420,710 1735,530M502,105H1735V620H502Z"/>
  <!-- clip left -->
  <path fill="#8f8a7e" d="M165,312H502V620H1160V720H265Q165,720 165,620Z"/>
  <path fill="#9a9588" d="M165,312H215V605H165Z"/>
  <path fill="#a39e91" d="M165,605H230Q230,660 265,660H1125V720H265Q165,720 165,620Z"/>
  <path fill="#d0cabd" d="M230,620H440V655H265Q232,655 230,620Z"/>
  <rect x="437" y="620" width="725" height="36" rx="14" fill="#8a6d14"/>
  <path fill="none" stroke="#6e695f" stroke-width="3" d="M215,312V605M165,605H502M265,660V720M1125,660V720"/>
  <!-- clip right -->
  <path fill="#8f8a7e" d="M1160,312H2075V620Q2075,720 1975,720H1125Q1160,700 1160,620Z"/>
  <path fill="#9a9588" d="M1160,312H1215V605H1160Z"/>
  <path fill="#7d786e" d="M1215,612H2075V620Q2075,720 1975,720H1130Q1215,710 1215,612Z"/>
  <path fill="#6b675f" d="M1215,670H2062Q2040,720 1975,720H1150Q1200,705 1215,670Z"/>
  <path fill="none" stroke="#6e695f" stroke-width="3" d="M1215,312V612M1160,605H2075"/>
  <path fill="none" stroke="#5f5b52" stroke-width="3" d="M165,312H502M1160,312H2075V620Q2075,720 1975,720H265Q165,720 165,620V312M1160,312V620"/>
</g>
<!-- black / gray -->
<rect x="1796.2" y="124.9" width="320.6" height="36" fill="#000"/>
<rect x="1725" y="160.7" width="355.8" height="57" fill="#757575"/>
<path fill="none" stroke="#555" stroke-width="0.6" d="M1725,160.7V217.7H2080.8V160.7"/>
</g>

</svg>
</body></html>
